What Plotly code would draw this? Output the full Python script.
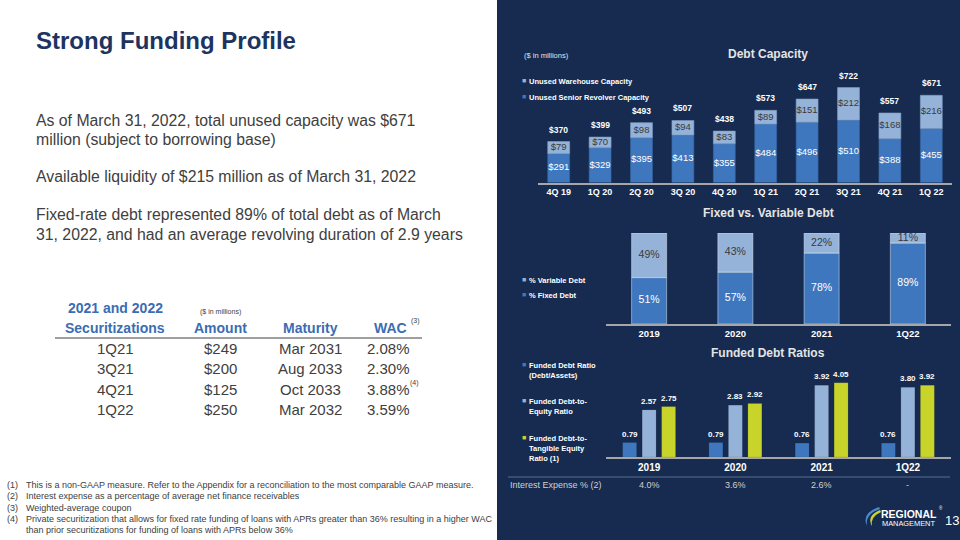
import plotly.graph_objects as go
import numpy as np

# ---------------- data ----------------
quarters = ["4Q 19", "1Q 20", "2Q 20", "3Q 20", "4Q 20", "1Q 21", "2Q 21", "3Q 21", "4Q 21", "1Q 22"]
senior_revolver = [291, 329, 395, 413, 355, 484, 496, 510, 388, 455]
warehouse = [79, 70, 98, 94, 83, 89, 151, 212, 168, 216]
total_capacity = [370, 399, 493, 507, 438, 573, 647, 722, 557, 671]

periods = ["2019", "2020", "2021", "1Q22"]
fixed_pct = [51, 57, 78, 89]
variable_pct = [49, 43, 22, 11]

ratio_debt_assets = [0.79, 0.79, 0.76, 0.76]
ratio_debt_equity = [2.57, 2.83, 3.92, 3.80]
ratio_debt_tangible = [2.75, 2.92, 4.05, 3.92]
interest_expense = ["4.0%", "3.6%", "2.6%", "-"]

sec_quarter = ["1Q21", "3Q21", "4Q21", "1Q22"]
sec_amount = ["$249", "$200", "$125", "$250"]
sec_maturity = ["Mar 2031", "Aug 2033", "Oct 2033", "Mar 2032"]
sec_wac = ["2.08%", "2.30%", "3.88%", "3.59%"]

bullet_lines = [
    "As of March 31, 2022, total unused capacity was $671",
    "million (subject to borrowing base)",
    "Available liquidity of $215 million as of March 31, 2022",
    "Fixed-rate debt represented 89% of total debt as of March",
    "31, 2022, and had an average revolving duration of 2.9 years",
]
footnotes = [
    "This is a non-GAAP measure. Refer to the Appendix for a reconciliation to the most comparable GAAP measure.",
    "Interest expense as a percentage of average net finance receivables",
    "Weighted-average coupon",
    "Private securitization that allows for fixed rate funding of loans with APRs greater than 36% resulting in a higher WAC",
    "than prior securitizations for funding of loans with APRs below 36%",
]

# ---------------- style ----------------
W, H = 960, 540
FONT = "Liberation Sans, Arial, sans-serif"
NAVY = "#162B4F"
DARK = "#3F77BE"
LIGHT = "#95B3D8"
LIME = "#C9D42B"
AXIS = "#A6A6A6"
GRAY = "#404040"
BLUE = "#3A6DB3"
TITLE = "#1D3461"
Y1_MIN = 103


def X(px):
    return px / W


def Y(py):
    return 1 - py / H


fig = go.Figure()

# ---------------- chart 1: Debt Capacity ----------------
bw1 = 0.53
fig.add_trace(go.Bar(x=quarters, y=senior_revolver, marker_color=DARK, width=bw1, offset=-bw1 / 2,
                     xaxis="x", yaxis="y", showlegend=False, hoverinfo="skip",
                     marker_line=dict(color="#35649F", width=0.6)))
fig.add_trace(go.Bar(x=quarters, y=warehouse, base=senior_revolver, marker_color=LIGHT, width=bw1,
                     offset=-bw1 / 2, xaxis="x", yaxis="y", showlegend=False, hoverinfo="skip",
                     marker_line=dict(color="#7F9CC4", width=0.6)))
sr = np.array(senior_revolver)
wh = np.array(warehouse)
mid_dark = (np.maximum(0, Y1_MIN) + sr) / 2
mid_light = sr + wh / 2
fig.add_trace(go.Scatter(x=quarters, y=mid_dark, mode="text", text=[f"${v}" for v in senior_revolver],
                         textfont=dict(color="white", size=9.5, family=FONT), xaxis="x", yaxis="y",
                         showlegend=False, hoverinfo="skip", cliponaxis=False))
fig.add_trace(go.Scatter(x=quarters, y=mid_light, mode="text", text=[f"${v}" for v in warehouse],
                         textfont=dict(color="#3A3A3A", size=9.5, family=FONT), xaxis="x", yaxis="y",
                         showlegend=False, hoverinfo="skip", cliponaxis=False))

# ---------------- chart 2: Fixed vs Variable ----------------
bw2 = 0.406
fig.add_trace(go.Bar(x=periods, y=fixed_pct, marker_color=DARK, width=bw2, offset=-bw2 / 2,
                     xaxis="x2", yaxis="y2", showlegend=False, hoverinfo="skip"))
fig.add_trace(go.Bar(x=periods, y=variable_pct, base=fixed_pct, marker_color=LIGHT, width=bw2,
                     offset=-bw2 / 2, xaxis="x2", yaxis="y2", showlegend=False, hoverinfo="skip"))
fx = np.array(fixed_pct)
vr = np.array(variable_pct)
fig.add_trace(go.Scatter(x=periods, y=fx / 2, mode="text", text=[f"{v}%" for v in fixed_pct],
                         textfont=dict(color="white", size=10.5, family=FONT), xaxis="x2", yaxis="y2",
                         showlegend=False, hoverinfo="skip", cliponaxis=False))
fig.add_trace(go.Scatter(x=periods, y=fx + vr / 2, mode="text", text=[f"{v}%" for v in variable_pct],
                         textfont=dict(color="#3A3A3A", size=10.5, family=FONT), xaxis="x2", yaxis="y2",
                         showlegend=False, hoverinfo="skip", cliponaxis=False))

# ---------------- chart 3: Funded Debt Ratios ----------------
bw3 = 0.162
sep3 = 0.226
X3_L, X3_R = 606, 951
unit3 = (X3_R - X3_L) / len(periods)
ratio_series = [(ratio_debt_assets, DARK, -1), (ratio_debt_equity, LIGHT, 0), (ratio_debt_tangible, LIME, 1)]
for vals, col, k in ratio_series:
    fig.add_trace(go.Bar(x=periods, y=vals, marker_color=col, width=bw3, offset=k * sep3 - bw3 / 2,
                         xaxis="x3", yaxis="y3", showlegend=False, hoverinfo="skip",
                         marker_line=dict(color="rgba(0,0,0,0.15)", width=0.6)))

annotations = []


def ann(x, y, text, size=10, color=GRAY, bold=False, xanchor="left", yanchor="middle", align="left",
        xref="paper", yref="paper", yshift=0, xshift=0):
    annotations.append(dict(x=x, y=y, xref=xref, yref=yref, text=text, showarrow=False,
                            xanchor=xanchor, yanchor=yanchor, align=align, yshift=yshift, xshift=xshift,
                            font=dict(family=FONT, size=size, color=color,
                                      weight="bold" if bold else "normal")))


# value labels chart 3 (category index positions on the category axis)
for vals, col, k in ratio_series:
    for i, v in enumerate(vals):
        annotations.append(dict(x=i, y=v, xref="x3", yref="y3", text=f"{v:.2f}",
                                showarrow=False, yanchor="bottom", yshift=2, xshift=k * sep3 * unit3,
                                font=dict(family=FONT, size=8, color="white", weight="bold")))

# totals chart 1
for i, t in enumerate(total_capacity):
    annotations.append(dict(x=i, y=t, xref="x", yref="y", text=f"${t}", showarrow=False,
                            yanchor="bottom", yshift=5,
                            font=dict(family=FONT, size=8.5, color="white", weight="bold")))

# interest expense row
for i, v in enumerate(interest_expense):
    annotations.append(dict(x=i, y=Y(485), xref="x3", yref="paper", text=v, showarrow=False,
                            xanchor="center", yanchor="middle",
                            font=dict(family=FONT, size=9, color="#D0D0D0")))
ann(X(508), Y(485), "Interest Expense % (2)", size=9, color="#D0D0D0")

# chart titles and notes on panel
ann(X(768), Y(54), "Debt Capacity", size=12, color="#E4E4E4", bold=True, xanchor="center")
ann(X(522), Y(55), "($ in millions)", size=7.5, color="#E4E4E4")
ann(X(768), Y(213), "Fixed vs. Variable Debt", size=12, color="#E4E4E4", bold=True, xanchor="center")
ann(X(768), Y(353), "Funded Debt Ratios", size=12, color="#E4E4E4", bold=True, xanchor="center")


def legend_item(py, color, text):
    ann(X(520), Y(py), f"<span style='color:{color}'>■</span>", size=7, color=color, yanchor="middle")
    ann(X(527), Y(py - 5), text, size=7.5, color="white", bold=True, yanchor="top")


legend_item(80, LIGHT, "Unused Warehouse Capacity")
legend_item(96, DARK, "Unused Senior Revolver Capacity")
legend_item(279, LIGHT, "% Variable Debt")
legend_item(294, DARK, "% Fixed Debt")
legend_item(364, DARK, "Funded Debt Ratio<br>(Debt/Assets)")
legend_item(400, LIGHT, "Funded Debt-to-<br>Equity Ratio")
legend_item(437, LIME, "Funded Debt-to-<br>Tangible Equity<br>Ratio (1)")

# ---------------- left side text ----------------
ann(X(34), Y(40), "Strong Funding Profile", size=24, color=TITLE, bold=True)
for t, py in zip(bullet_lines, [120, 139, 177, 214, 234]):
    ann(X(34), Y(py), t, size=15.8, color=GRAY)

# table
col_x = [115, 220, 310, 390]
ann(X(col_x[0]), Y(308), "2021 and 2022", size=14, color=BLUE, bold=True, xanchor="center")
ann(X(col_x[0]), Y(328), "Securitizations", size=14, color=BLUE, bold=True, xanchor="center")
ann(X(col_x[1]), Y(312), "($ in millions)", size=7, color=GRAY, xanchor="center")
ann(X(col_x[1]), Y(328), "Amount", size=14, color=BLUE, bold=True, xanchor="center")
ann(X(col_x[2]), Y(328), "Maturity", size=14, color=BLUE, bold=True, xanchor="center")
ann(X(col_x[3]), Y(328), "WAC", size=14, color=BLUE, bold=True, xanchor="center")
ann(X(409), Y(321), "(3)", size=7, color=GRAY)
row_y = [348, 368, 389, 409]
for i in range(len(sec_quarter)):
    ann(X(col_x[0]), Y(row_y[i]), sec_quarter[i], size=15, color=GRAY, xanchor="center")
    ann(X(col_x[1]), Y(row_y[i]), sec_amount[i], size=15, color=GRAY, xanchor="center")
    ann(X(col_x[2]), Y(row_y[i]), sec_maturity[i], size=15, color=GRAY, xanchor="center")
    ann(X(388), Y(row_y[i]), sec_wac[i], size=15, color=GRAY, xanchor="center")
ann(X(408), Y(383), "(4)", size=7, color=GRAY)

# footnotes
fn_y = [485, 496, 508, 519, 530]
labels = ["(1)", "(2)", "(3)", "(4)", ""]
for i, t in enumerate(footnotes):
    if labels[i]:
        ann(X(5), Y(fn_y[i]), labels[i], size=9, color=GRAY)
    ann(X(24), Y(fn_y[i]), t, size=9, color=GRAY)

# logo & page number
ann(X(879), Y(514), "REGIONAL", size=10.5, color="white", bold=True)
ann(X(937), Y(508), "®", size=4.5, color="white")
ann(X(880), Y(523.5), "MANAGEMENT", size=7.4, color="white")
ann(X(943), Y(520), "13", size=13, color="white")

shapes = [
    dict(type="rect", xref="paper", yref="paper", x0=X(497), x1=1, y0=0, y1=1,
         fillcolor=NAVY, line=dict(width=0), layer="below"),
    dict(type="line", xref="paper", yref="paper", x0=X(55), x1=X(422), y0=Y(338), y1=Y(338),
         line=dict(color="#7F7F7F", width=1.5)),
    dict(type="line", xref="paper", yref="paper", x0=X(508), x1=X(950), y0=Y(477), y1=Y(477),
         line=dict(color="#5A6F91", width=1)),
    # logo swoosh
    dict(type="path", xref="paper", yref="paper",
         path=f"M {X(880)} {Y(510)} Q {X(866)} {Y(516)} {X(872)} {Y(526)} Q {X(870)} {Y(517)} {X(881)} {Y(512)} Z",
         fillcolor=LIME, line=dict(width=0)),
    dict(type="path", xref="paper", yref="paper",
         path=f"M {X(879)} {Y(507)} Q {X(861)} {Y(513)} {X(867)} {Y(526)} Q {X(865)} {Y(514)} {X(880)} {Y(509)} Z",
         fillcolor="#4A8BD0", line=dict(width=0)),
]

xcommon = dict(showgrid=False, zeroline=False, showline=True, linecolor=AXIS, linewidth=2, ticks="",
               fixedrange=True)
fig.update_layout(
    width=W, height=H, margin=dict(l=0, r=0, t=0, b=0),
    paper_bgcolor="white", plot_bgcolor="rgba(0,0,0,0)",
    barmode="overlay", showlegend=False, font=dict(family=FONT),
    xaxis=dict(domain=[X(538), X(952)], anchor="y", type="category", range=[-0.5, len(quarters) - 0.5],
               tickfont=dict(color="white", size=9, family=FONT, weight="bold"), **xcommon),
    yaxis=dict(domain=[Y(182.5), Y(70)], range=[Y1_MIN, 836], visible=False, anchor="x"),
    xaxis2=dict(domain=[X(606), X(951)], anchor="y2", type="category", range=[-0.5, len(periods) - 0.5],
                tickfont=dict(color="white", size=9.5, family=FONT, weight="bold"), **xcommon),
    yaxis2=dict(domain=[Y(324), Y(233)], range=[0, 100], visible=False, anchor="x2"),
    xaxis3=dict(domain=[X(X3_L), X(X3_R)], anchor="y3", type="category", range=[-0.5, len(periods) - 0.5],
                tickfont=dict(color="white", size=10, family=FONT, weight="bold"), **xcommon),
    yaxis3=dict(domain=[Y(457), Y(369)], range=[0, 4.8], visible=False, anchor="x3"),
    annotations=annotations, shapes=shapes,
)

fig.write_html("out.html")
